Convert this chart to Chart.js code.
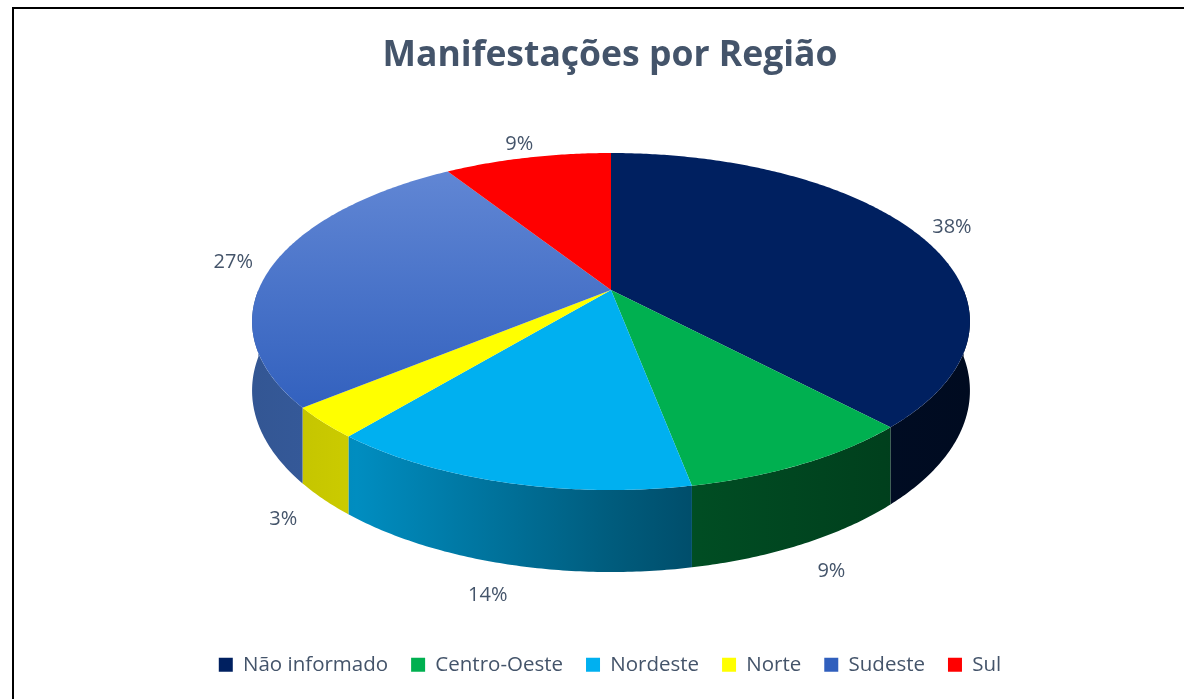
<!DOCTYPE html>
<html>
<head>
<meta charset="utf-8">
<script src="https://cdn.jsdelivr.net/npm/chart.js@4.4.1/dist/chart.umd.min.js"></script>
<style>
  html, body { margin: 0; padding: 0; background: #fff; overflow: hidden; }
  #wrap { position: absolute; left: 14px; top: 0; width: 1192px; height: 699px; }
  #moldura { position: absolute; left: 12px; top: 7px; width: 1200px; height: 720px;
             border-left: 2px solid #000; border-top: 2px solid #000; pointer-events: none; }
</style>
</head>
<body>
<div id="wrap"><canvas id="grafico" width="1192" height="699"></canvas></div>
<div id="moldura"></div>
<script>
// dados
const regioes = ['Não informado', 'Centro-Oeste', 'Nordeste', 'Norte', 'Sudeste', 'Sul'];
const percentuais = [38, 9, 14, 3, 27, 9];
const cores = ['#002060', '#00B050', '#00B0F0', '#FFFF00', '#4472C4', '#FF0000'];

// projecao em perspectiva da pizza (coords do canvas)
// x = CX + A*u/w ; y = CY + B*v/w ; w = 1 + K*v
const PIE = { CX: 597, CY: 290, A: 352.6, B: 162.6, K: -0.187, D: 66.7 };
// sombreamento da lateral, da esquerda para a direita
const SOMBRA = [[0, 0.75], [0.15, 0.8], [0.5, 0.52], [0.62, 0.44], [0.75, 0.4], [1, 0.33]];

function projeta(u, v, comAltura) {
  const w = 1 + PIE.K * v;
  return [PIE.CX + PIE.A * u / w, PIE.CY + PIE.B * v / w + (comAltura ? PIE.D / w : 0)];
}

function escurece(hex, f) {
  const n = parseInt(hex.slice(1), 16);
  const r = Math.round(((n >> 16) & 255) * f);
  const g = Math.round(((n >> 8) & 255) * f);
  const b = Math.round((n & 255) * f);
  return `rgb(${r},${g},${b})`;
}

function corTopo(c) {
  const base = cores[c.dataIndex];
  if (regioes[c.dataIndex] !== 'Sudeste') return base;
  const g = c.chart.ctx.createLinearGradient(0, 160, 0, 420);
  g.addColorStop(0, '#6388D5');
  g.addColorStop(1, '#305FBD');
  return g;
}

const pizza3d = {
  id: 'pizza3d',
  beforeDatasetsDraw(chart) {
    const arcs = chart.getDatasetMeta(0).data;
    this._ok = arcs.length > 0;
    if (!this._ok) return;
    const ctx = chart.ctx;
    const esq = projeta(-1, 0)[0] - 10, dir = projeta(1, 0)[0] + 10;

    // paredes laterais: so a metade da frente aparece
    arcs.forEach((arc, i) => {
      const a1 = Math.max(arc.startAngle, 0);
      const a2 = Math.min(arc.endAngle, Math.PI);
      if (a2 <= a1) return;
      const g = ctx.createLinearGradient(esq, 0, dir, 0);
      SOMBRA.forEach(([t, f]) => g.addColorStop(t, escurece(cores[i], f)));
      const n = Math.max(2, Math.ceil((a2 - a1) / 0.01));
      ctx.beginPath();
      for (let k = 0; k <= n; k++) {
        const t = a1 + (a2 - a1) * k / n;
        ctx.lineTo(...projeta(Math.cos(t), Math.sin(t), false));
      }
      for (let k = n; k >= 0; k--) {
        const t = a1 + (a2 - a1) * k / n;
        ctx.lineTo(...projeta(Math.cos(t), Math.sin(t), true));
      }
      ctx.closePath();
      ctx.fillStyle = g;
      ctx.fill();
    });

    // o topo e desenhado pelo proprio Chart.js; so os pontos do caminho passam pela perspectiva
    const a = arcs[0];
    const R = a.outerRadius;
    const p = (x, y) => projeta((x - a.x) / R, (y - a.y) / R, false);
    const proto = CanvasRenderingContext2D.prototype;
    ctx.moveTo = (x, y) => proto.moveTo.call(ctx, ...p(x, y));
    ctx.lineTo = (x, y) => proto.lineTo.call(ctx, ...p(x, y));
    ctx.arc = (x, y, r, s, e) => {
      const n = Math.max(2, Math.ceil(Math.abs(e - s) / 0.01));
      for (let k = 0; k <= n; k++) {
        const t = s + (e - s) * k / n;
        proto.lineTo.call(ctx, ...p(x + r * Math.cos(t), y + r * Math.sin(t)));
      }
    };
  },
  afterDatasetsDraw(chart) {
    if (!this._ok) return;
    const ctx = chart.ctx;
    delete ctx.moveTo;
    delete ctx.lineTo;
    delete ctx.arc;

    const arcs = chart.getDatasetMeta(0).data;
    ctx.save();
    ctx.font = '20px "Open Sans"';
    ctx.fillStyle = '#44546A';
    ctx.textAlign = 'center';
    ctx.textBaseline = 'middle';
    arcs.forEach((arc, i) => {
      const m = (arc.startAngle + arc.endAngle) / 2;
      const u = 1.12 * Math.cos(m), v = 1.12 * Math.sin(m);
      const [x, y] = projeta(u, v, v > 0);
      ctx.fillText(`${percentuais[i]}%`, x, y);
    });
    ctx.restore();
  }
};

new Chart(document.getElementById('grafico'), {
  type: 'pie',
  data: {
    labels: regioes,
    datasets: [{
      data: percentuais,
      backgroundColor: corTopo,
      borderWidth: 0,
      hoverOffset: 0,
      clip: false,
    }]
  },
  options: {
    responsive: false,
    animation: false,
    events: [],
    layout: { padding: { top: 0, bottom: 14, left: 0, right: 0 } },
    plugins: {
      title: {
        display: true,
        text: 'Manifestações por Região',
        color: '#44546A',
        font: { family: 'Open Sans', size: 35.5, weight: 'bold' },
        padding: { top: 35, bottom: 20 }
      },
      legend: {
        position: 'bottom',
        labels: {
          color: '#44546A',
          font: { family: 'Open Sans', size: 20.5 },
          boxWidth: 14,
          boxHeight: 14,
          padding: 23
        }
      },
      tooltip: { enabled: false }
    }
  },
  plugins: [pizza3d]
});
</script>
</body>
</html>
